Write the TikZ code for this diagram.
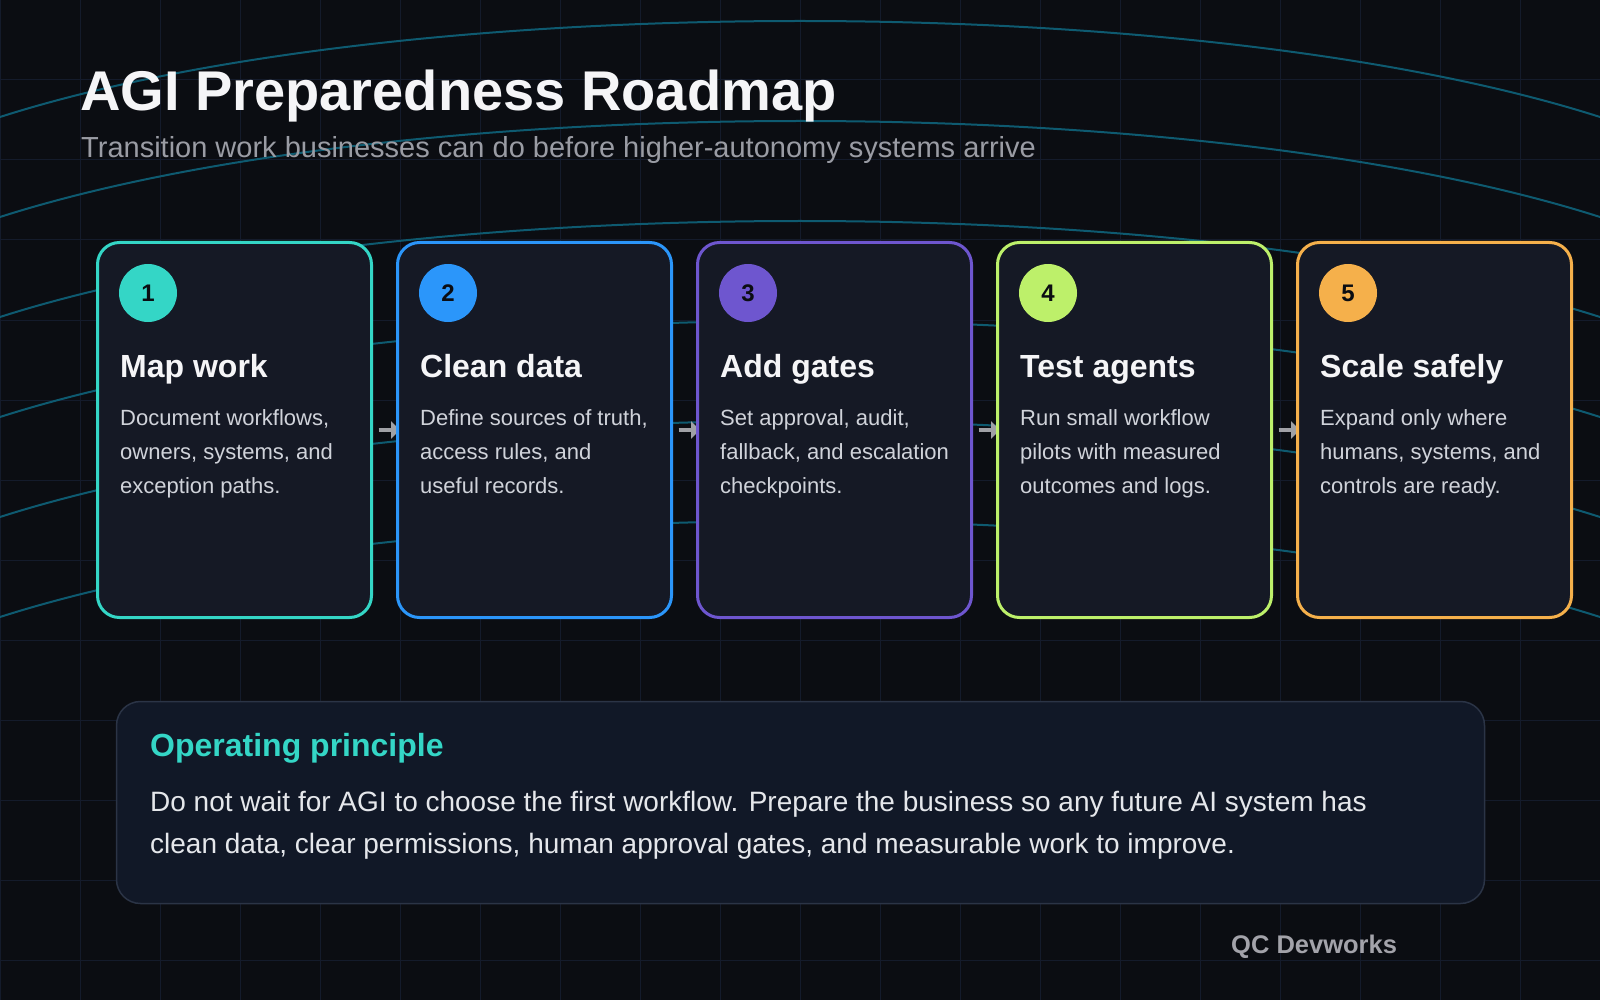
\documentclass[tikz,border=0pt]{standalone}
\usepackage{fontspec}
\setmainfont{Liberation Sans}
\usetikzlibrary{arrows.meta}
\pgfdeclarelayer{bg}
\pgfsetlayers{bg,main}
\definecolor{bgc}{RGB}{11,13,18}
\definecolor{gridc}{RGB}{20,27,43}
\definecolor{curvec}{RGB}{14,90,112}
\definecolor{cardfill}{RGB}{21,25,37}
\definecolor{boxfill}{RGB}{17,24,39}
\definecolor{boxline}{RGB}{43,52,70}
\definecolor{titlec}{RGB}{245,245,247}
\definecolor{subc}{RGB}{154,156,164}
\definecolor{descc}{RGB}{208,211,218}
\definecolor{bodyc}{RGB}{229,231,235}
\definecolor{arrowc}{RGB}{160,161,166}
\definecolor{brandc}{RGB}{163,163,170}
\definecolor{numc}{RGB}{11,13,18}
\definecolor{col1}{RGB}{52,214,198}
\definecolor{col2}{RGB}{43,150,250}
\definecolor{col3}{RGB}{110,86,207}
\definecolor{col4}{RGB}{189,240,106}
\definecolor{col5}{RGB}{245,176,75}
\newcommand\roadcard[5]{%
  \pgfmathsetmacro\ox{300*(#1-1)}%
  \node[card, draw=col#1] (c#1) at (234.5+\ox,430) {};
  \node[badge, fill=col#1] (b#1) at (148+\ox,293) {#1};
  \node[head] (h#1) at (120+\ox,377) {#2};
  \node[desc] (d#1a) at (120+\ox,425) {#3};
  \node[desc] (d#1b) at (120+\ox,459) {#4};
  \node[desc] (d#1c) at (120+\ox,493) {#5};
}
\begin{document}
\begin{tikzpicture}[x=1pt,y=-1pt,
  gridline/.style={draw=gridc, line width=1pt},
  curve/.style={draw=curvec, line width=2pt},
  card/.style={rectangle, rounded corners=22pt, fill=cardfill, line width=3pt,
    minimum width=274pt, minimum height=375pt, inner sep=0pt},
  badge/.style={circle, minimum size=58pt, inner sep=0pt, text=numc,
    font=\bfseries\fontsize{24}{24}\selectfont},
  head/.style={anchor=base west, inner sep=0pt, text=titlec,
    font=\bfseries\fontsize{32}{32}\selectfont},
  desc/.style={anchor=base west, inner sep=0pt, text=descc,
    font=\fontsize{22}{22}\selectfont},
  flowarrow/.style={draw=arrowc, line width=3.5pt,
    -{Triangle[length=9pt,width=17pt]}},
  prbox/.style={rectangle, rounded corners=24pt, fill=boxfill, draw=boxline,
    line width=1.5pt, minimum width=1368pt, minimum height=202pt, inner sep=0pt},
  plain/.style={anchor=base west, inner sep=0pt}]
\useasboundingbox (0,0) rectangle (1600,1000);
\begin{pgfonlayer}{bg}
  \fill[bgc] (0,0) rectangle (1600,1000);
  \foreach \x in {0,80,...,1600} \draw[gridline] (\x,0) -- (\x,1000);
  \foreach \y in {0,80,...,960} \draw[gridline] (0,\y) -- (1600,\y);
  \foreach \i in {0,...,5} {
    \pgfmathsetmacro\ya{117+100*\i}
    \pgfmathsetmacro\yc{\ya-128}
    \draw[curve] (0,\ya) .. controls (400,\yc) and (1200,\yc) .. (1600,\ya);
  }
\end{pgfonlayer}

\node[plain, text=titlec, font=\bfseries\fontsize{56}{56}\selectfont] (title) at (80,111) {AGI Preparedness Roadmap};
\node[plain, text=subc, font=\fontsize{29}{29}\selectfont] (sub) at (81,158) {Transition work businesses can do before higher-autonomy systems arrive};

\roadcard{1}{Map work}{Document workflows,}{owners, systems, and}{exception paths.}
\roadcard{2}{Clean data}{Define sources of truth,}{access rules, and}{useful records.}
\roadcard{3}{Add gates}{Set approval, audit,}{fallback, and escalation}{checkpoints.}
\roadcard{4}{Test agents}{Run small workflow}{pilots with measured}{outcomes and logs.}
\roadcard{5}{Scale safely}{Expand only where}{humans, systems, and}{controls are ready.}

\begin{pgfonlayer}{bg}
  \foreach \a/\b in {1/2,2/3,3/4,4/5}
    \draw[flowarrow] ([xshift=5.5pt]c\a.east) -- ([xshift=4pt]c\b.west);
\end{pgfonlayer}

\node[prbox] (pr) at (800.5,802.5) {};
\node[plain, text=col1, font=\bfseries\fontsize{32}{32}\selectfont] (prt) at (150,756) {Operating principle};
\node[plain, text=bodyc, font=\fontsize{28}{28}\selectfont] (prb1) at (150,811) {Do not wait for AGI to choose the first workflow. Prepare the business so any future AI system has};
\node[plain, text=bodyc, font=\fontsize{28}{28}\selectfont] (prb2) at (150,853) {clean data, clear permissions, human approval gates, and measurable work to improve.};

\node[plain, text=brandc, font=\bfseries\fontsize{25.5}{25.5}\selectfont] (brand) at (1231,953) {QC Devworks};
\end{tikzpicture}
\end{document}
